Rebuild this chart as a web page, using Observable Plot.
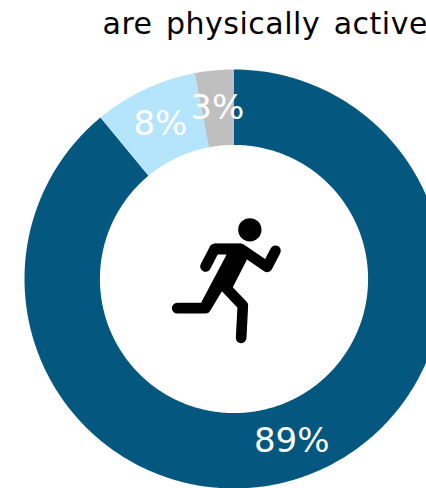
<!DOCTYPE html>
<html>
<head>
<meta charset="utf-8">
<script src="https://cdn.jsdelivr.net/npm/d3@7"></script>
<script src="https://cdn.jsdelivr.net/npm/@observablehq/plot@0.6"></script>
<style>
  html, body { margin: 0; padding: 0; background: #fff; overflow: hidden; }
  svg { display: block; }
  .heading text { letter-spacing: 0.5px; word-spacing: 3.5px; }
</style>
</head>
<body>
<div id="chart"></div>
<script>
// Share of respondents by answer, clockwise from twelve o'clock
const answers = ["Active", "Partly active", "Inactive"];
const shares = [89, 8, 3];
const shareLabels = ["89%", "8%", "3%"];
const sliceColors = ["#04587f", "#b4e5fd", "#bfbfbf"];
const heading = "are physically active";

const outerRadius = 1;
const innerRadius = 0.64;
const midRadius = (outerRadius + innerRadius) / 2;

// Polar position to cartesian, angle in percent of the full circle
const polar = (pct, r) => {
  const a = (pct / 100) * 2 * Math.PI;
  return {x: r * Math.sin(a), y: r * Math.cos(a)};
};

// Ring segments as closed outlines, one per answer
const ring = [];
const labels = [];
let start = 0;
answers.forEach((answer, i) => {
  const end = start + shares[i];
  const steps = Math.max(8, Math.ceil(shares[i] * 4));
  for (let s = 0; s <= steps; s++) {
    ring.push({answer, ...polar(start + (end - start) * s / steps, outerRadius)});
  }
  for (let s = steps; s >= 0; s--) {
    ring.push({answer, ...polar(start + (end - start) * s / steps, innerRadius)});
  }
  labels.push({text: shareLabels[i], ...polar((start + end) / 2, midRadius)});
  start = end;
});

// Running figure pictogram
const runner = `<svg xmlns="http://www.w3.org/2000/svg" viewBox="0 0 450 480">
  <circle cx="298" cy="88" r="35"/>
  <path d="M190 129 H272 L295 150 L288 180 L246 262 L205 275 L150 310 L228 163 Z"/>
  <g fill="none" stroke="#000" stroke-width="32" stroke-linecap="round" stroke-linejoin="round">
    <path d="M165 198 L192 146 H272 L350 199 L375 151"/>
    <path d="M80 323 H165 L215 240"/>
    <path d="M215 250 L277 315 L272 412"/>
  </g>
</svg>`;
const runnerUri = "data:image/svg+xml;utf8," + encodeURIComponent(runner);

const unit = 209.5;
const centerX = 233.5;
const centerY = 278.5;
const chart = Plot.plot({
  width: 426,
  height: 488,
  margin: 0,
  style: {background: "#fff", overflow: "hidden"},
  x: {domain: [-centerX / unit, (426 - centerX) / unit], range: [0, 426], axis: null},
  y: {domain: [-(488 - centerY) / unit, centerY / unit], range: [488, 0], axis: null},
  color: {domain: answers, range: sliceColors},
  marks: [
    Plot.line(ring, {x: "x", y: "y", z: "answer", fill: "answer", stroke: null, curve: "linear"}),
    Plot.text(labels, {
      x: "x", y: "y", text: "text", fill: "#fff", dx: -0.5, dy: 0.5,
      fontFamily: "DejaVu Sans", fontSize: 34, textAnchor: "middle", lineAnchor: "middle"
    }),
    Plot.image([{x: -8.5 / unit, y: -1.5 / unit}], {
      x: "x", y: "y", width: 150, height: 160, src: () => runnerUri
    }),
    Plot.text([heading], {
      frameAnchor: "top-left", dx: 102, dy: 11.7, fill: "#000", className: "heading",
      fontFamily: "DejaVu Sans", fontSize: 30, textAnchor: "start", lineAnchor: "top"
    })
  ]
});
document.getElementById("chart").append(chart);
</script>
</body>
</html>
